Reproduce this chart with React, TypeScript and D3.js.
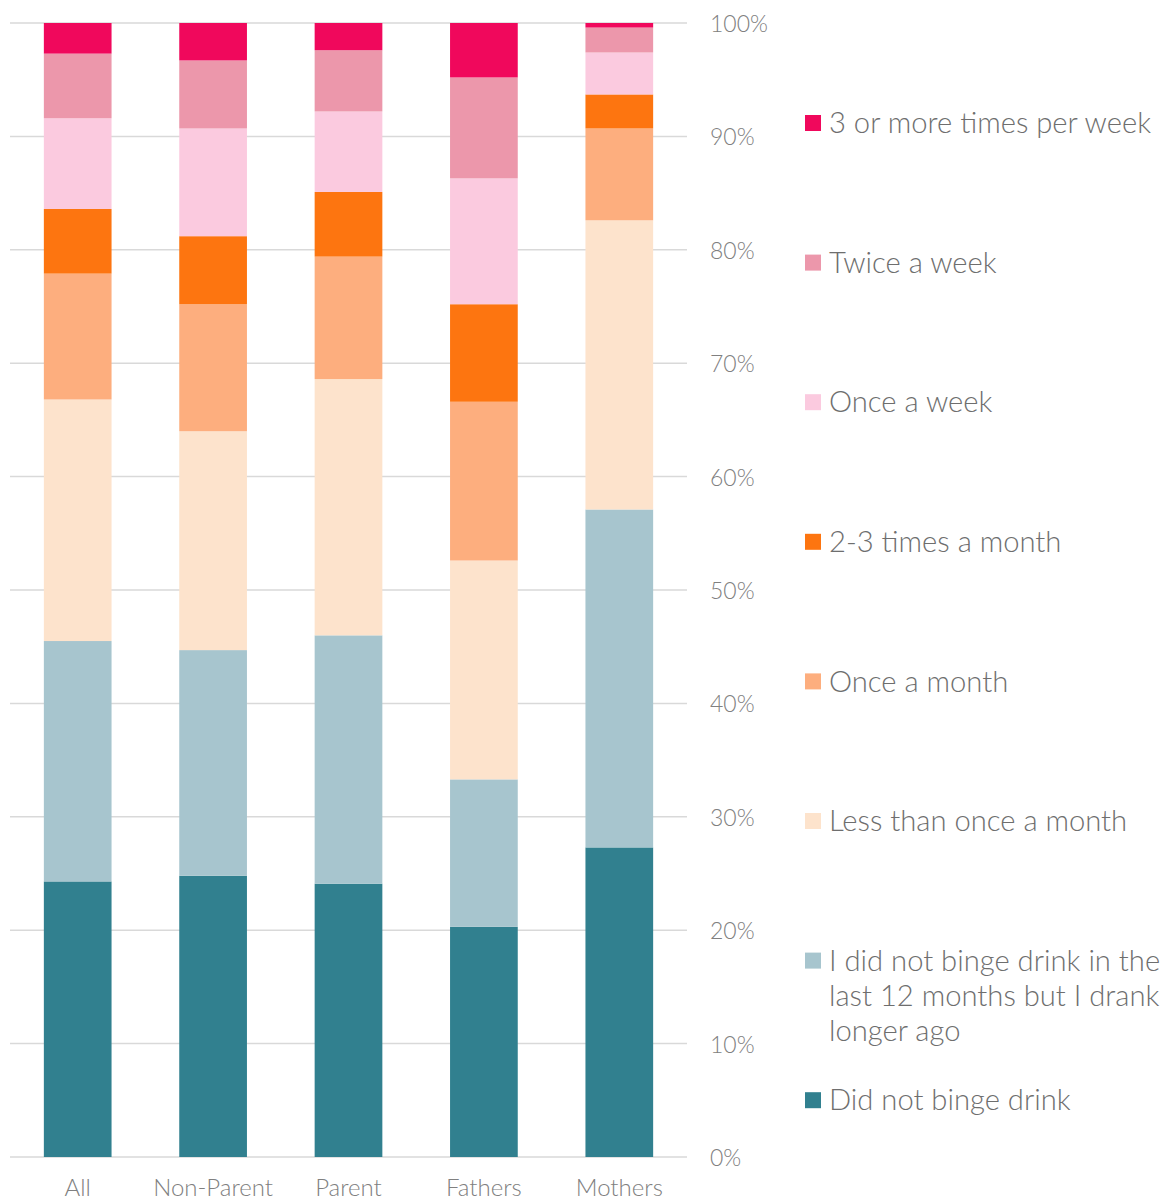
import React from "react";
import * as d3 from "d3";

const categories = ["All", "Non-Parent", "Parent", "Fathers", "Mothers"];
const seriesNames = [
  "Did not binge drink",
  "I did not binge drink in the last 12 months but I drank longer ago",
  "Less than once a month",
  "Once a month",
  "2-3 times a month",
  "Once a week",
  "Twice a week",
  "3 or more times per week",
];
const seriesColors = ["#31808F", "#A7C5CE", "#FDE3CC", "#FDAE7E", "#FD7510", "#FBCADF", "#EC97AB", "#F0085C"];
const didNotBinge = [24.3, 24.8, 24.1, 20.3, 27.3];
const drankLongerAgo = [21.2, 19.9, 21.9, 13.0, 29.8];
const lessThanMonthly = [21.3, 19.3, 22.6, 19.3, 25.5];
const onceAMonth = [11.1, 11.2, 10.8, 14.0, 8.1];
const twoThreeMonth = [5.7, 6.0, 5.7, 8.6, 3.0];
const onceAWeek = [8.0, 9.5, 7.1, 11.1, 3.7];
const twiceAWeek = [5.7, 6.0, 5.4, 8.9, 2.2];
const threePlusWeek = [2.7, 3.3, 2.4, 4.8, 0.4];
const yTicks = [0, 10, 20, 30, 40, 50, 60, 70, 80, 90, 100];

const legendLines = [
  ["3 or more times per week"],
  ["Twice a week"],
  ["Once a week"],
  ["2-3 times a month"],
  ["Once a month"],
  ["Less than once a month"],
  ["I did not binge drink in the", "last 12 months but I drank", "longer ago"],
  ["Did not binge drink"],
];

export default function App() {
  const W = 1169, H = 1201;
  const left = 10, right = 687, top = 23, bottom = 1157; // page coords
  const all = [didNotBinge, drankLongerAgo, lessThanMonthly, onceAMonth, twoThreeMonth, onceAWeek, twiceAWeek, threePlusWeek];
  const rows = categories.map((c, i) => {
    const r: any = { cat: c };
    seriesNames.forEach((s, j) => (r[s] = all[j][i]));
    return r;
  });
  const stack = d3.stack<any>().keys(seriesNames)(rows);
  const x = d3.scaleBand().domain(categories).range([left, right]).paddingInner(0.5).paddingOuter(0.25);
  const y = d3.scaleLinear().domain([0, 100]).range([bottom, top]);
  const font = "Lato, 'Open Sans', sans-serif";
  const legendTop = 123;
  const legendStep = 139.6;
  return (
    <svg width={W} height={H} style={{ display: "block", position: "absolute", left: 0, top: 0 }}>
      {yTicks.map((t) => (
        <g key={t}>
          <line x1={left} x2={right} y1={y(t)} y2={y(t)} stroke="#d9d9d9" strokeWidth={1.5} />
          <text x={710} y={y(t) + 1} dy="0.35em" fontFamily={font} fontWeight={300} fontSize={23} fill="#808080">
            {t}%
          </text>
        </g>
      ))}
      {stack.map((layer, j) => (
        <g key={j} fill={seriesColors[j]}>
          {layer.map((d, i) => (
            <rect key={i} x={x(categories[i])} width={x.bandwidth()} y={y(d[1])} height={y(d[0]) - y(d[1])} />
          ))}
        </g>
      ))}
      {categories.map((c) => (
        <text key={c} x={(x(c) as number) + x.bandwidth() / 2} y={1196} textAnchor="middle" fontFamily={font} fontWeight={300} fontSize={24} fill="#808080">
          {c}
        </text>
      ))}
      {legendLines.map((lines, k) => {
        const si = seriesNames.length - 1 - k;
        const cy = legendTop + k * legendStep;
        return (
          <g key={k}>
            <rect x={805} y={cy - 8} width={16} height={16} fill={seriesColors[si]} />
            {lines.map((ln, li) => (
              <text key={li} x={829} y={cy + li * 35} dy="0.35em" fontFamily={font} fontWeight={300} fontSize={29.2} fill="#6e6e6e">
                {ln}
              </text>
            ))}
          </g>
        );
      })}
    </svg>
  );
}
